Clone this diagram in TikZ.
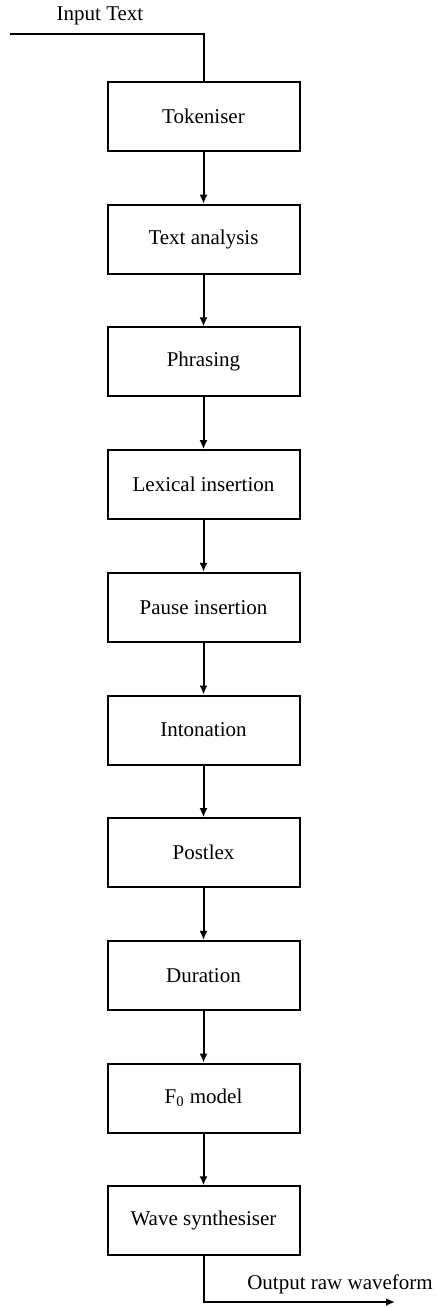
\documentclass[tikz,border=0pt]{standalone}
\usepackage{fontspec}
\setmainfont{Liberation Serif}
\usetikzlibrary{arrows.meta}
\begin{document}
\begin{tikzpicture}[x=0.5pt,y=-0.5pt,line width=1pt,
  t/.style={font=\fontsize{10.5}{12}\selectfont},
  b/.style={t,minimum width=96pt,minimum height=34.5pt,rectangle,draw},
  a/.style={-{Latex[length=4.5pt,width=4pt]}}]
  \useasboundingbox (0,0) rectangle (437,1308);
  \matrix (m) [row sep=25.85pt,inner sep=0pt,anchor=north] at (203.5,80) {
    \node[b] (tok) {Tokeniser}; \\
    \node[b] (txt) {Text analysis}; \\
    \node[b] (phr) {Phrasing}; \\
    \node[b] (lex) {Lexical insertion}; \\
    \node[b] (pau) {Pause insertion}; \\
    \node[b] (int) {Intonation}; \\
    \node[b] (pst) {Postlex}; \\
    \node[b] (dur) {Duration}; \\
    \node[b] (fzm) {F\textsubscript{0} model}; \\
    \node[b] (wav) {Wave synthesiser}; \\
  };
  % input and output
  \coordinate (in) at (10,34);
  \coordinate (out) at (395,1302);
  \node[t] (inlbl) at (100,16) {Input Text};
  \node[t] (outlbl) at (340,1284) {Output raw waveform};
  \draw (in) -| (tok.north);
  \draw[a] (wav.south) |- (out);
  % pipeline
  \foreach \i/\j in {tok/txt,txt/phr,phr/lex,lex/pau,pau/int,int/pst,pst/dur,dur/fzm,fzm/wav}
    \draw[a] (\i) -- (\j);
\end{tikzpicture}
\end{document}
